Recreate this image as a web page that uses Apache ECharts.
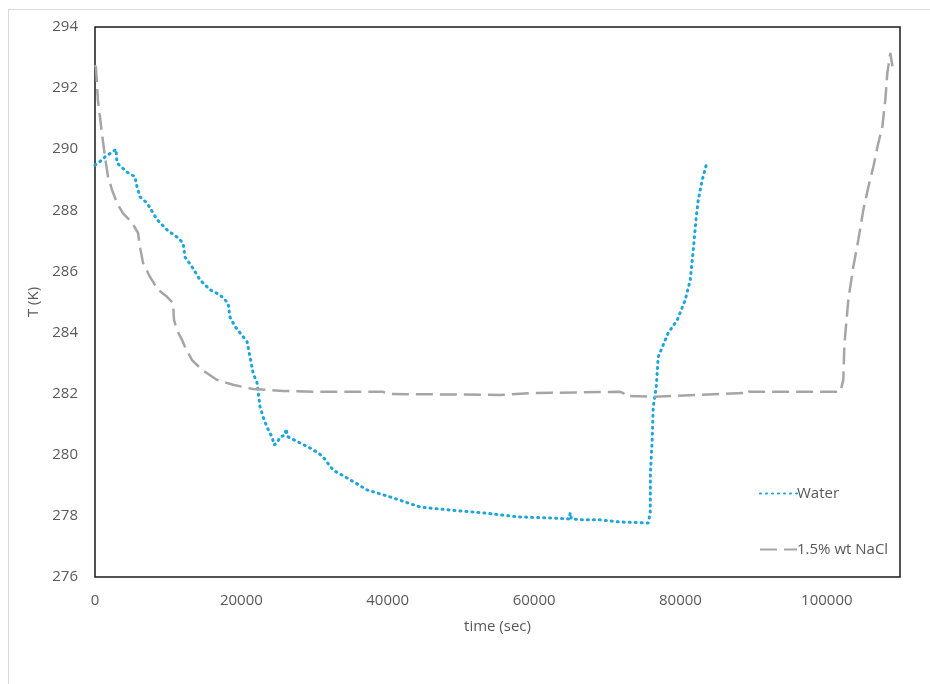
<!DOCTYPE html>
<html>
<head>
<meta charset="utf-8">
<script src="https://cdn.jsdelivr.net/npm/echarts@6/dist/echarts.min.js"></script>
<style>
  html, body { margin: 0; padding: 0; background: #fff; }
  #chart { width: 930px; height: 684px; }
</style>
</head>
<body>
<div id="chart"></div>
<script>
// water run: time (s) and temperature (K)
var waterTime = [0, 700, 1367, 2324, 2870, 3007, 4374, 5468, 5741, 6152, 7108, 8475, 9842, 11346, 12030, 12303,
  13260, 14354, 15721, 17088, 18181, 18455, 19138, 20778, 21598, 22145, 22556, 22966, 23513, 24196, 24470,
  24880, 25290, 25974, 26111, 26300, 26657, 28024, 29391, 30485, 31168, 32535, 34448, 37182, 40327, 44428,
  48529, 53040, 57687, 62199, 64800, 64933, 65100, 66710, 69034, 71768, 75596, 75870, 75900, 76143, 76280,
  76690, 76964, 77648, 78331, 79561, 80655, 81339, 81749, 82159, 82432, 82979, 83526];
var waterTemp = [289.48, 289.6, 289.75, 289.9, 290.0, 289.55, 289.25, 289.1, 288.76, 288.44, 288.24, 287.7, 287.36,
  287.1, 286.93, 286.47, 286.15, 285.72, 285.4, 285.23, 284.97, 284.5, 284.2, 283.7, 282.68, 282.35, 281.57,
  281.24, 280.9, 280.58, 280.32, 280.39, 280.58, 280.65, 280.85, 280.6, 280.55, 280.39, 280.22, 280.06, 279.93,
  279.5, 279.24, 278.85, 278.62, 278.29, 278.19, 278.1, 277.97, 277.93, 277.9, 278.1, 277.9, 277.87, 277.87,
  277.8, 277.77, 278.1, 279.4, 280.5, 281.57, 282.2, 283.2, 283.6, 283.99, 284.41, 285.07, 285.72, 286.7,
  287.78, 288.34, 289.0, 289.48];

// 1.5% wt NaCl run
var naclTime = [0, 137, 273, 400, 683, 957, 1367, 1777, 2324, 3007, 3828, 5058, 5878, 6152, 6562, 7519, 8612,
  9842, 10663, 10800, 11210, 11893, 12303, 13260, 14627, 16678, 18865, 21598, 25700, 30758, 39370, 40053,
  55365, 59877, 71768, 72178, 72451, 76280, 88582, 88855, 89539, 101842, 102252, 102400, 102935, 103619,
  104302, 104986, 105669, 106353, 107036, 107583, 107993, 108266, 108676, 109086];
var naclTemp = [292.75, 292.66, 292.6, 291.6, 291.05, 290.5, 289.75, 289.1, 288.67, 288.24, 287.9, 287.6, 287.26,
  286.8, 286.28, 285.82, 285.4, 285.17, 284.97, 284.41, 284.08, 283.76, 283.53, 283.1, 282.78, 282.45, 282.29,
  282.15, 282.09, 282.06, 282.06, 281.99, 281.96, 282.02, 282.06, 282.02, 281.93, 281.9, 282.02, 282.12,
  282.06, 282.06, 282.45, 283.6, 285.07, 286.15, 287.03, 288.01, 288.76, 289.42, 290.2, 290.73, 291.61,
  292.49, 293.15, 292.53];

var seriesNames = ["Water", "1.5% wt NaCl"];

function pairs(xs, ys) {
  return xs.map(function (x, i) { return [x, ys[i]]; });
}

var labelFont = "'Open Sans', sans-serif";
var myChart = echarts.init(document.getElementById("chart"));

var option = {
  animation: false,
  backgroundColor: "#fff",
  grid: {
    left: 95,
    right: 30,
    top: 27,
    bottom: 107,
    show: true,
    borderColor: "#1a1a1a",
    borderWidth: 1.5,
  },
  legend: {
    orient: "vertical",
    left: 754,
    top: 481,
    itemWidth: 37,
    itemHeight: 14,
    itemGap: 41,
    itemStyle: { opacity: 0 },
    textStyle: {
      color: "#595959",
      fontSize: 15,
      fontFamily: labelFont,
      padding: [0, 0, 0, -5],
    },
    data: seriesNames,
  },
  xAxis: {
    type: "value",
    min: 0,
    max: 110000,
    interval: 20000,
    name: "time (sec)",
    nameLocation: "middle",
    nameGap: 42,
    nameTextStyle: { color: "#595959", fontSize: 15, fontFamily: labelFont },
    axisLine: { show: false },
    axisTick: { show: false },
    splitLine: { show: false },
    axisLabel: {
      color: "#595959",
      fontSize: 15,
      fontFamily: labelFont,
      margin: 16,
      showMaxLabel: false,
      formatter: function (v) { return String(v); },
    },
  },
  yAxis: {
    type: "value",
    min: 276,
    max: 294,
    interval: 2,
    name: "T (K)",
    nameLocation: "middle",
    nameGap: 53,
    nameTextStyle: { color: "#595959", fontSize: 15, fontFamily: labelFont },
    axisLine: { show: false },
    axisTick: { show: false },
    splitLine: { show: false },
    axisLabel: {
      color: "#595959",
      fontSize: 15,
      fontFamily: labelFont,
      margin: 17,
    },
  },
  series: [
    {
      name: seriesNames[0],
      type: "line",
      symbol: "none",
      data: pairs(waterTime, waterTemp),
      itemStyle: { color: "#1BA5DC" },
      lineStyle: { color: "#1BA5DC", width: 3, type: [1, 5], cap: "round" },
    },
    {
      name: seriesNames[1],
      type: "line",
      symbol: "none",
      data: pairs(naclTime, naclTemp),
      itemStyle: { color: "#A5A5A5" },
      lineStyle: { color: "#A5A5A5", width: 2.5, type: [17, 7] },
    },
  ],
  graphic: [
    {
      type: "line",
      shape: { x1: 8, y1: 9.5, x2: 930, y2: 9.5 },
      style: { stroke: "#d9d9d9", lineWidth: 1 },
    },
    {
      type: "line",
      shape: { x1: 8.5, y1: 9, x2: 8.5, y2: 684 },
      style: { stroke: "#d9d9d9", lineWidth: 1 },
    },
  ],
};

myChart.setOption(option);
</script>
</body>
</html>
